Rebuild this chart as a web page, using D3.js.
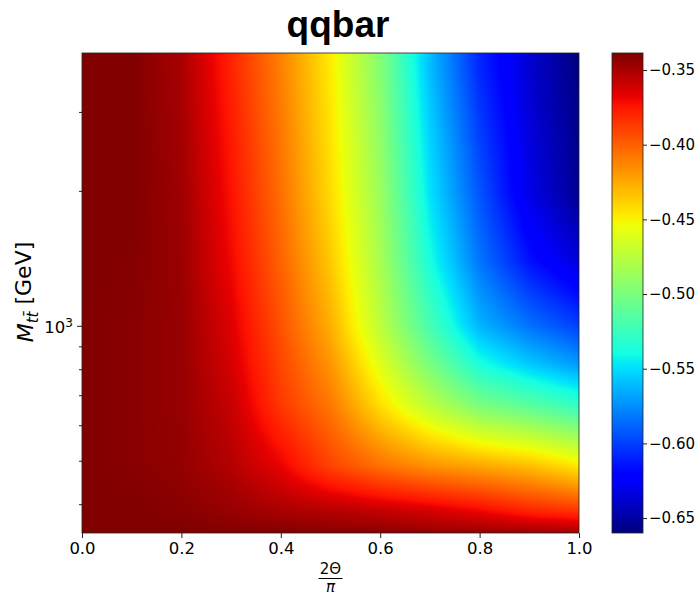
<!DOCTYPE html>
<html><head><meta charset="utf-8">
<script src="https://cdn.jsdelivr.net/npm/d3@7"></script>
<style>
body{margin:0;background:#fff;}
text{font-family:"DejaVu Sans",sans-serif;fill:#000;}
</style>
</head><body>
<svg id="chart" width="698" height="596"></svg>
<script>
// ---- data ----
const titleText = "qqbar";
const xSamples = [0, 0.1, 0.2, 0.3, 0.4, 0.5, 0.6, 0.7, 0.8, 0.9, 1.0];
const massRows = [3806, 1950, 1400, 1000, 820, 663, 487, 386, 354, 345];
const valuesM3806 = [-0.339, -0.339, -0.350, -0.379, -0.411, -0.4475, -0.496, -0.560, -0.608, -0.6375, -0.660];
const valuesM1950 = [-0.339, -0.339, -0.347, -0.373, -0.405, -0.442, -0.487, -0.548, -0.593, -0.631, -0.654];
const valuesM1400 = [-0.339, -0.340, -0.346, -0.370, -0.401, -0.436, -0.482, -0.538, -0.583, -0.615, -0.636];
const valuesM1000 = [-0.339, -0.341, -0.345, -0.365, -0.395, -0.427, -0.474, -0.520, -0.563, -0.584, -0.600];
const valuesM820  = [-0.339, -0.341, -0.345, -0.362, -0.391, -0.418, -0.460, -0.500, -0.537, -0.556, -0.571];
const valuesM663  = [-0.339, -0.341, -0.345, -0.358, -0.386, -0.408, -0.443, -0.474, -0.4995, -0.512, -0.527];
const valuesM487  = [-0.339, -0.341, -0.344, -0.353, -0.368, -0.390, -0.406, -0.417, -0.424, -0.432, -0.4465];
const valuesM386  = [-0.339, -0.339, -0.341, -0.345, -0.350, -0.353, -0.357, -0.362, -0.369, -0.379, -0.385];
const valuesM354  = [-0.339, -0.339, -0.339, -0.341, -0.342, -0.344, -0.346, -0.349, -0.351, -0.354, -0.357];
const valuesM345  = [-0.339, -0.339, -0.339, -0.339, -0.339, -0.339, -0.340, -0.341, -0.343, -0.345, -0.347];
const valueRows = [valuesM3806, valuesM1950, valuesM1400, valuesM1000, valuesM820, valuesM663, valuesM487, valuesM386, valuesM354, valuesM345];
const xTicks = [0, 0.2, 0.4, 0.6, 0.8, 1.0];
const yMajorTicks = [1000];
const yMinorTicks = [400, 500, 600, 700, 800, 900, 2000, 3000];
const cbTicks = [-0.35, -0.40, -0.45, -0.50, -0.55, -0.60, -0.65];
const xDomain = [0, 1];
const yDomain = [345, 4060];
const cDomain = [-0.660, -0.3386];

// ---- layout ----
const svg = d3.select("#chart");
const L = 82, R = 579, T = 53, B = 533;
const cbL = 612, cbR = 643;
const W = R - L, H = B - T;

const xScale = d3.scaleLinear().domain(xDomain).range([L, R]);
const yScale = d3.scaleLog().domain(yDomain).range([B, T]);
const cScale = d3.scaleLinear().domain(cDomain).range([0, 1]).clamp(true);

// matplotlib "jet" colormap built from its segment data
const jr = d3.scaleLinear().domain([0, 0.35, 0.66, 0.89, 1]).range([0, 0, 1, 1, 0.5]).clamp(true);
const jg = d3.scaleLinear().domain([0, 0.125, 0.375, 0.64, 0.91, 1]).range([0, 0, 1, 1, 0, 0]).clamp(true);
const jb = d3.scaleLinear().domain([0, 0.11, 0.34, 0.65, 1]).range([0.5, 1, 1, 0, 0]).clamp(true);
function jet(t) { return [jr(t) * 255, jg(t) * 255, jb(t) * 255]; }

// ---- heatmap ----
const rowScales = valueRows.map(r => d3.scaleLinear().domain(xSamples).range(r).clamp(true));
const rowPix = massRows.map(m => yScale(m));
const cv = document.createElement("canvas");
cv.width = W; cv.height = H;
const ctx = cv.getContext("2d");
const img = ctx.createImageData(W, H);
for (let px = 0; px < W; px++) {
  const xv = xScale.invert(L + px + 0.5);
  const colVals = rowScales.map(s => s(xv));
  const colScale = d3.scaleLinear().domain(rowPix).range(colVals).clamp(true);
  for (let py = 0; py < H; py++) {
    const v = colScale(T + py + 0.5);
    const c = jet(cScale(v));
    const i = (py * W + px) * 4;
    img.data[i] = c[0]; img.data[i + 1] = c[1]; img.data[i + 2] = c[2]; img.data[i + 3] = 255;
  }
}
ctx.putImageData(img, 0, 0);
svg.append("image").attr("x", L).attr("y", T).attr("width", W).attr("height", H)
  .attr("preserveAspectRatio", "none").attr("href", cv.toDataURL());

// ---- colorbar ----
const cbH = H;
const cb = document.createElement("canvas");
cb.width = 1; cb.height = cbH;
const cbx = cb.getContext("2d");
const cbImg = cbx.createImageData(1, cbH);
const cbScale = d3.scaleLinear().domain(cDomain).range([B, T]);
for (let py = 0; py < cbH; py++) {
  const v = cbScale.invert(T + py + 0.5);
  const c = jet(cScale(v));
  cbImg.data[py * 4] = c[0]; cbImg.data[py * 4 + 1] = c[1]; cbImg.data[py * 4 + 2] = c[2]; cbImg.data[py * 4 + 3] = 255;
}
cbx.putImageData(cbImg, 0, 0);
svg.append("image").attr("x", cbL).attr("y", T).attr("width", cbR - cbL).attr("height", cbH)
  .attr("preserveAspectRatio", "none").attr("href", cb.toDataURL()).style("image-rendering", "pixelated");
svg.append("rect").attr("x", cbL).attr("y", T).attr("width", cbR - cbL).attr("height", cbH)
  .attr("fill", "none").attr("stroke", "#222").attr("stroke-width", 0.8);

const fmtMinus = d => (d < 0 ? "\u2212" : "") + Math.abs(d).toFixed(2);
const cbAxis = svg.append("g").attr("transform", `translate(${cbR},0)`)
  .call(d3.axisRight(cbScale).tickValues(cbTicks).tickFormat(fmtMinus).tickSize(4).tickPadding(2));
cbAxis.select(".domain").remove();
cbAxis.selectAll("text").style("font-size", "15px").style("font-family", "DejaVu Sans");
cbAxis.selectAll("line").attr("stroke", "#222");

// ---- axes ----
const xAxis = svg.append("g").attr("transform", `translate(0,${B})`)
  .call(d3.axisBottom(xScale).tickValues(xTicks).tickFormat(d3.format(".1f")).tickSize(5).tickPadding(4));
xAxis.select(".domain").remove();
xAxis.selectAll("text").style("font-size", "16.5px").style("font-family", "DejaVu Sans");
xAxis.selectAll("line").attr("stroke", "#222");

const yMinor = svg.append("g").attr("transform", `translate(${L},0)`)
  .call(d3.axisLeft(yScale).tickValues(yMinorTicks).tickFormat("").tickSize(3));
yMinor.select(".domain").remove();
yMinor.selectAll("line").attr("stroke", "#222");

const yMajor = svg.append("g").attr("transform", `translate(${L},0)`)
  .call(d3.axisLeft(yScale).tickValues(yMajorTicks).tickFormat("").tickSize(5));
yMajor.select(".domain").remove();
yMajor.selectAll("line").attr("stroke", "#222");
yMajor.selectAll(".tick").append("text")
  .attr("x", -9).attr("dy", "0.4em").attr("text-anchor", "end")
  .style("font-size", "16.5px")
  .each(function (d) {
    const t = d3.select(this);
    t.append("tspan").text("10");
    t.append("tspan").attr("dy", "-0.5em").style("font-size", "12px").text(String(Math.round(Math.log10(d))));
  });

// frame
svg.append("rect").attr("x", L).attr("y", T).attr("width", W).attr("height", H)
  .attr("fill", "none").attr("stroke", "#222").attr("stroke-width", 0.8);

// ---- title ----
svg.append("text").attr("x", 338).attr("y", 37).attr("text-anchor", "middle")
  .style("font-family", "'Liberation Sans', Arial, sans-serif").style("font-weight", "bold")
  .style("font-size", "37px").text(titleText);

// ---- y label ----
const yl = svg.append("text").attr("transform", "translate(33,292) rotate(-90)")
  .attr("text-anchor", "middle").style("font-size", "22px");
yl.append("tspan").style("font-style", "italic").text("M");
yl.append("tspan").attr("dy", "0.3em").style("font-size", "15px").style("font-style", "italic").text("t\u0074\u0304");
yl.append("tspan").attr("dy", "-0.3em").text(" [GeV]");

// ---- x label (fraction) ----
const xc = (L + R) / 2;
svg.append("text").attr("x", xc).attr("y", 574).attr("text-anchor", "middle").style("font-size", "15px").text("2\u0398");
svg.append("line").attr("x1", xc - 12).attr("x2", xc + 12).attr("y1", 578.5).attr("y2", 578.5).attr("stroke", "#000").attr("stroke-width", 1);
svg.append("text").attr("x", xc).attr("y", 592).attr("text-anchor", "middle").style("font-size", "15px").style("font-style", "italic").text("\u03c0");
</script>
</body></html>
